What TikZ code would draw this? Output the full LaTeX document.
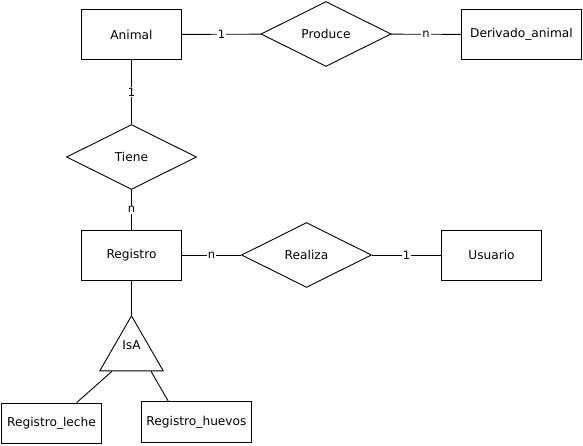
\documentclass[tikz,border=0pt]{standalone}
\usepackage{fontspec}
\setmainfont{DejaVu Sans}
\usepackage{tikz}
\usetikzlibrary{shapes.geometric, calc}

\begin{document}
\begin{tikzpicture}[x=1pt, y=-1pt, line width=0.9pt,
   every node/.style = {font=\fontsize{12.2}{14}\selectfont},
   entity/.style = {shape = rectangle, draw, minimum width=100pt, minimum height=50pt},
   relation/.style = {shape = diamond, draw, minimum width=130pt, minimum height=65pt, inner sep=0pt},
   isa/.style = {shape = regular polygon, regular polygon sides=3, draw, minimum size=68pt, inner sep=1pt, text depth=15pt},
   card/.style = {fill=white, inner sep=1pt, font=\fontsize{11.5}{12}\selectfont}]
   \useasboundingbox (0,0) rectangle (583,445);
   \node(animal) at (131.5,34.5) [entity] {Animal};
   \node(produce) at (326,34) [relation] {Produce};
   \node(derivado) at (521.5,34.5) [entity, minimum width=120pt] {Derivado\_animal};
   \node(tiene) at (131.5,157) [relation] {Tiene};
   \node(registro) at (131.5,255) [entity] {Registro};
   \node(realiza) at (306.5,255) [relation] {Realiza};
   \node(usuario) at (491.5,255) [entity] {Usuario};
   \node(isa) at (131.5,352.5) [isa] {IsA};
   \node(leche) at (51.5,423) [entity, minimum height=40pt] {Registro\_leche};
   \node(huevos) at (196.5,422) [entity, minimum width=110pt, minimum height=41pt] {Registro\_huevos};
   \draw (animal) to node[card]{1} (produce) ;
   \draw (produce) to node[card]{n} (derivado) ;
   \draw (animal) to node[card]{1} (tiene) ;
   \draw (tiene) to node[card]{n} (registro) ;
   \draw (registro) to node[card]{n} (realiza) ;
   \draw (realiza) to node[card]{1} (usuario) ;
   \draw (registro.south) to (isa.corner 1) ;
   \draw ($(isa.corner 2)!0.2!(isa.corner 3)$) to ($(leche.north west)!0.75!(leche.north east)$) ;
   \draw ($(isa.corner 2)!0.8!(isa.corner 3)$) to ($(huevos.north west)!0.245!(huevos.north east)$) ;
\end{tikzpicture}
\end{document}
